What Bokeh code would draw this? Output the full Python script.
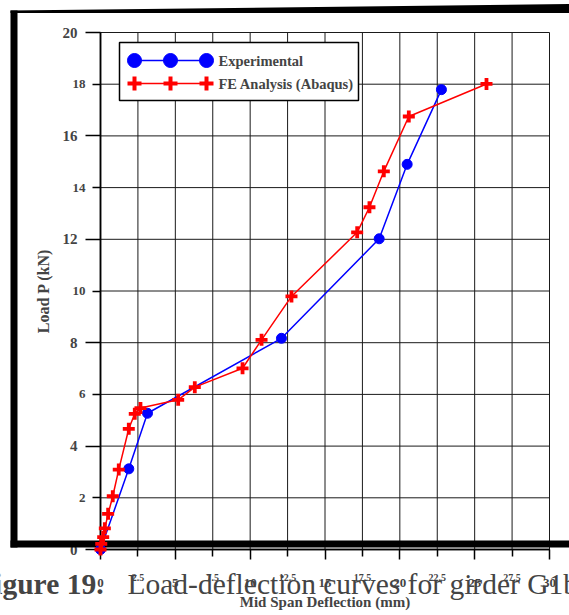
from bokeh.plotting import figure
from bokeh.models import (Range1d, LinearAxis, FixedTicker, Label,
                          BoxAnnotation, PolyAnnotation)
from bokeh.embed import file_html
from bokeh.resources import INLINE

# ---------------------------------------------------------------------------
# Data: mid span deflection (mm) against load P (kN) for girder G1b
# ---------------------------------------------------------------------------
exp_deflection = [0.0, 1.89, 3.14, 12.09, 18.62, 20.49, 22.78]
exp_load = [0.0, 3.12, 5.27, 8.17, 12.02, 14.90, 17.79]

fe_deflection = [0.0, 0.05, 0.18, 0.29, 0.51, 0.82, 1.22, 1.89, 2.29, 2.67,
                 5.19, 6.30, 9.49, 10.76, 12.76, 17.15, 17.97, 18.93, 20.60,
                 25.79]
fe_load = [0.0, 0.22, 0.48, 0.82, 1.38, 2.06, 3.09, 4.67, 5.25, 5.47,
           5.79, 6.28, 7.01, 8.11, 9.79, 12.27, 13.24, 14.63, 16.75, 18.01]

series_names = ["Experimental", "FE Analysis (Abaqus)"]
x_ticks_major = [0, 5, 10, 15, 20, 25, 30]
x_ticks_minor = [2.5, 7.5, 12.5, 17.5, 22.5, 27.5]
y_ticks_major = [0, 4, 8, 12, 16, 20]
y_ticks_minor = [2, 6, 10, 14, 18]
x_title = "Mid Span Deflection (mm)"
y_title = "Load P (kN)"
caption_number = "Figure 19."
caption_text = "Load-deflection curves for girder G1b"

# ---------------------------------------------------------------------------
# Layout (pixels on a 569 x 615 page)
# ---------------------------------------------------------------------------
W, H = 569, 615
PLOT_L, PLOT_R, PLOT_T, PLOT_B = 100, 549, 32, 549   # plotting box on the page
X0, X1, Y0, Y1 = 0, 30, 0, 20                        # axis limits
SERIF = "Liberation Serif"
BLUE, RED = "#0000ff", "#ff0000"
GRID = "#1a1a1a"

# the frame covers the whole page; the ranges are stretched so that the
# axis limits land on the plotting box
kx = (X1 - X0) / (PLOT_R - PLOT_L)
ky = (Y1 - Y0) / (PLOT_B - PLOT_T)
x_range = Range1d(X0 - PLOT_L * kx, X1 + (W - PLOT_R) * kx)
y_range = Range1d(Y0 - (H - PLOT_B) * ky, Y1 + PLOT_T * ky)


def sy(cy):
    """page y (downwards) -> screen y (upwards)"""
    return H - cy


p = figure(frame_width=W, frame_height=H, x_range=x_range, y_range=y_range,
           x_axis_location=None, y_axis_location=None,
           toolbar_location=None, output_backend="svg",
           min_border=0, background_fill_color="white",
           border_fill_color="white", outline_line_color=None)
p.xgrid.visible = False
p.ygrid.visible = False

# page-pixel ranges for the legend keys
p.extra_x_ranges = {"px": Range1d(0, W)}
p.extra_y_ranges = {"py": Range1d(0, H)}

# grid lines, limited to the plotting box
x_all = sorted(x_ticks_major + x_ticks_minor)
y_all = sorted(y_ticks_major + y_ticks_minor)
p.segment(x0=x_all, y0=[Y0] * len(x_all), x1=x_all, y1=[Y1] * len(x_all),
          line_color=GRID, line_width=1, level="underlay")
p.segment(x0=[X0] * len(y_all), y0=y_all, x1=[X1] * len(y_all), y1=y_all,
          line_color=GRID, line_width=1, level="underlay")


def style_axis(ax, ticks, tick_out, standoff, size):
    ax.ticker = FixedTicker(ticks=ticks)
    ax.major_label_overrides = {t: f"{t:g}" for t in ticks}
    ax.major_tick_in = 0
    ax.major_tick_out = tick_out
    ax.major_tick_line_width = 1.5
    ax.minor_tick_out = 0
    ax.minor_tick_line_color = None
    ax.major_label_standoff = standoff
    ax.major_label_text_font = SERIF
    ax.major_label_text_font_style = "bold"
    ax.major_label_text_font_size = size
    ax.axis_line_width = 1.5


# x axes: long ticks with larger labels, short ticks with smaller labels
xa = LinearAxis(fixed_location=Y0, bounds=(X0, X1))
style_axis(xa, x_ticks_major, 10, 19, "13px")
xa.axis_label = x_title
xa.axis_label_text_font = SERIF
xa.axis_label_text_font_style = "bold"
xa.axis_label_text_font_size = "15px"
xa.axis_label_standoff = 4
p.add_layout(xa, "below")
xb = LinearAxis(fixed_location=Y0, bounds=(X0, X1))
style_axis(xb, x_ticks_minor, 7, 17, "10px")
p.add_layout(xb, "below")

# y axes
ya = LinearAxis(fixed_location=X0, bounds=(Y0, Y1))
style_axis(ya, y_ticks_major, 15, 8, "15px")
ya.axis_label = y_title
ya.axis_label_text_font = SERIF
ya.axis_label_text_font_style = "bold"
ya.axis_label_text_font_size = "16px"
ya.axis_label_standoff = 8
p.add_layout(ya, "left")
yb = LinearAxis(fixed_location=X0, bounds=(Y0, Y1))
style_axis(yb, y_ticks_minor, 8, 7, "13px")
p.add_layout(yb, "left")

# data
p.line(exp_deflection, exp_load, line_color=BLUE, line_width=1.5, level="overlay")
p.scatter(exp_deflection, exp_load, marker="circle", size=10,
          fill_color=BLUE, line_color=BLUE, level="overlay")
p.line(fe_deflection, fe_load, line_color=RED, line_width=1.5, level="overlay")
p.scatter(fe_deflection, fe_load, marker="cross", size=12,
          line_color=RED, line_width=3.8, level="overlay")

# legend
p.quad(left=119, right=358, bottom=sy(100), top=sy(42),
       x_range_name="px", y_range_name="py",
       fill_color="white", line_color="black", line_width=1.5, level="overlay")
key_x = [134, 170, 206]
for name, row_y, color, marker, lw in ((series_names[0], 60, BLUE, "circle", 1),
                                       (series_names[1], 83, RED, "cross", 4)):
    ky_ = [sy(row_y)] * 3
    p.line(key_x, ky_, x_range_name="px", y_range_name="py",
           line_color=color, line_width=1.5, level="overlay")
    p.scatter(key_x, ky_, x_range_name="px", y_range_name="py", marker=marker,
              size=14, fill_color=color, line_color=color, line_width=lw,
              level="overlay")
    p.add_layout(Label(x=218, y=sy(row_y), x_units="screen", y_units="screen",
                       text=name, text_font=SERIF, text_font_style="bold",
                       text_font_size="14.5px", text_baseline="middle",
                       level="overlay"))

# heavy page frame around the figure
for l, r, b, t in ((10, 17, 547, 10), (10, W + 10, 547, 540)):
    p.add_layout(BoxAnnotation(left=l, right=r, bottom=sy(b), top=sy(t),
                               left_units="screen", right_units="screen",
                               bottom_units="screen", top_units="screen",
                               fill_color="black", fill_alpha=1,
                               line_color=None))
p.add_layout(PolyAnnotation(xs=[10, W + 10, W + 10, 10],
                            ys=[sy(10), sy(3.5), sy(12.5), sy(12.5)],
                            xs_units="screen", ys_units="screen",
                            fill_color="black", fill_alpha=1, line_color=None))

# caption
p.add_layout(Label(x=103, y=sy(583), x_units="screen", y_units="screen",
                   text=caption_number, text_font=SERIF, text_font_style="bold",
                   text_font_size="29.5px", text_align="right",
                   text_baseline="alphabetic", level="overlay"))
p.add_layout(Label(x=127, y=sy(583), x_units="screen", y_units="screen",
                   text=caption_text, text_font=SERIF,
                   text_font_size="29.5px", text_align="left",
                   text_baseline="alphabetic", level="overlay"))

open("out.html", "w").write(file_html(p, INLINE))
